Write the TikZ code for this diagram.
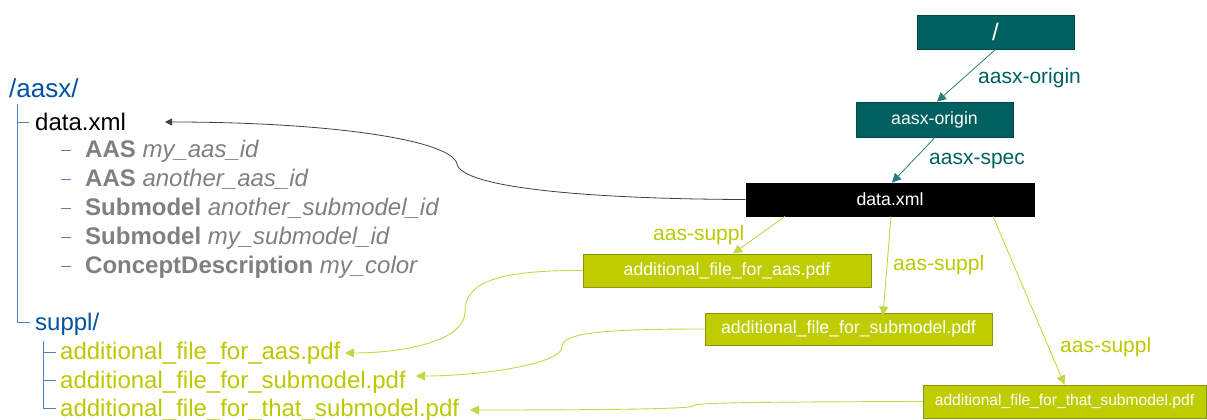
\documentclass[tikz,border=0pt]{standalone}
\usepackage{fontspec}
\setmainfont{Liberation Sans}
\usetikzlibrary{arrows.meta}
\definecolor{teal1}{RGB}{0,96,96}
\definecolor{tealborder}{RGB}{0,72,72}
\definecolor{tealline}{RGB}{40,125,125}
\definecolor{olive1}{RGB}{191,204,0}
\definecolor{oliveborder}{RGB}{140,150,0}
\definecolor{olivetext}{RGB}{188,200,0}
\definecolor{oliveline}{RGB}{200,212,70}
\definecolor{treeblue}{RGB}{79,129,189}
\definecolor{dirblue}{RGB}{0,82,160}
\definecolor{grayt}{RGB}{128,128,128}
\begin{document}
\begin{tikzpicture}[x=1pt,y=-1pt,
  boxbase/.style={inner sep=0pt, line width=0.9pt, font=\fontsize{17.7}{20}\selectfont},
  tealbox/.style={boxbase, draw=tealborder, fill=teal1, text=white},
  blackbox/.style={boxbase, draw=black, fill=black, text=white},
  olivebox/.style={boxbase, draw=oliveborder, fill=olive1, text=white},
  teallabel/.style={anchor=base west, inner sep=0pt, text=teal1, font=\fontsize{21}{24}\selectfont},
  olivelabel/.style={anchor=base west, inner sep=0pt, text=olivetext, font=\fontsize{21}{24}\selectfont},
  treetext/.style={anchor=base west, inner sep=0pt, font=\fontsize{24}{28}\selectfont},
  treeline/.style={draw=treeblue, line width=1pt},
  tealedge/.style={draw=tealline, line width=0.8pt, -{Triangle[length=9pt,width=9pt]}},
  oliveedge/.style={draw=oliveline, line width=0.9pt, -{Triangle[length=9pt,width=9pt]}},
  blackedge/.style={draw=black!75, line width=0.8pt, -{Triangle[length=7pt,width=7pt]}}
]
\useasboundingbox (0,0) rectangle (1207,420);

% right-hand graph
\node[tealbox, minimum width=157pt, minimum height=34pt, font=\fontsize{24}{28}\selectfont] (root) at (995.5,32) {/};
\node[tealbox, minimum width=157pt, minimum height=35pt] (origin) at (934.5,119.5) {aasx-origin};
\node[blackbox, minimum width=288pt, minimum height=33pt] (dbox) at (890,199.5) {data.xml};
\node[olivebox, minimum width=288pt, minimum height=33pt] (faas) at (727,270.5) {additional\_file\_for\_aas.pdf};
\node[olivebox, minimum width=287pt, minimum height=32pt] (fsub) at (848.5,329) {additional\_file\_for\_submodel.pdf};
\node[olivebox, minimum width=283pt, minimum height=33pt, font=\fontsize{15.6}{18}\selectfont] (fthat) at (1064.5,401.5) {additional\_file\_for\_that\_submodel.pdf};

\node[teallabel] (l1) at (978,83) {aasx-origin};
\node[teallabel] (l2) at (929,164) {aasx-spec};
\node[olivelabel] (l3) at (653,240) {aas-suppl};
\node[olivelabel] (l4) at (893,270) {aas-suppl};
\node[olivelabel] (l5) at (1060,352) {aas-suppl};

\draw[tealedge] (root.south) -- ([xshift=2.5pt]origin.north);
\draw[tealedge] ([xshift=0.5pt]origin.south) -- ([xshift=2pt]dbox.north);
\draw[oliveedge] ([xshift=-105pt]dbox.south) -- ([xshift=6pt]faas.north);
\draw[oliveedge] ([xshift=1pt]dbox.south) -- ([xshift=34.5pt,yshift=-3pt]fsub.north);
\draw[oliveedge] ([xshift=103pt]dbox.south) -- (fthat.north);

% left tree
\node[treetext, text=dirblue, font=\fontsize{26}{30}\selectfont] (aasx) at (9,97) {/aasx/};
\node[treetext, text=black] (ldata) at (35,130) {data.xml};
\node[treetext, text=grayt] (g1) at (85,157) {\textbf{AAS} \textit{my\_aas\_id}};
\node[treetext, text=grayt] (g2) at (85,186) {\textbf{AAS} \textit{another\_aas\_id}};
\node[treetext, text=grayt] (g3) at (85,215) {\textbf{Submodel} \textit{another\_submodel\_id}};
\node[treetext, text=grayt] (g4) at (85,244) {\textbf{Submodel} \textit{my\_submodel\_id}};
\node[treetext, text=grayt] (g5) at (85,273) {\textbf{ConceptDescription} \textit{my\_color}};
\node[treetext, text=dirblue] (suppl) at (35,330) {suppl/};
\node[treetext, text=olivetext] (lf1) at (60,359) {additional\_file\_for\_aas.pdf};
\node[treetext, text=olivetext] (lf2) at (60,388) {additional\_file\_for\_submodel.pdf};
\node[treetext, text=olivetext] (lf3) at (60,416) {additional\_file\_for\_that\_submodel.pdf};

\draw[treeline] (17,104) -- (17,322) -- (30,322);
\draw[treeline] (17,122) -- (29,122);
\draw[treeline] (43,341) -- (43,408) -- (56,408);
\draw[treeline] (43,352) -- (56,352);
\draw[treeline] (43,380) -- (56,380);
\foreach \yy in {150,179,208,237,266} \draw[treeline] (61,\yy) -- (71,\yy);

% curved connectors to the tree
\coordinate (inData) at (165,122);
\coordinate (inF1) at (345,353);
\coordinate (inF2) at (416,376);
\coordinate (inF3) at (470,410);
\draw[blackedge] (dbox.west) .. controls (590,199) and (462,188) .. (457,164)
  .. controls (452,140) and (330,122) .. (inData);
\draw[oliveedge] (faas.west) .. controls (490,270) and (465,285) .. (465,312)
  .. controls (465,342) and (400,353) .. (inF1);
\draw[oliveedge] (fsub.west) .. controls (600,329) and (562,333) .. (562,347)
  .. controls (562,364) and (480,376) .. (inF2);
\draw[oliveedge] (fthat.west) .. controls (730,402) and (693,403) .. (693,406)
  .. controls (693,409) and (600,410) .. (inF3);
\end{tikzpicture}
\end{document}
